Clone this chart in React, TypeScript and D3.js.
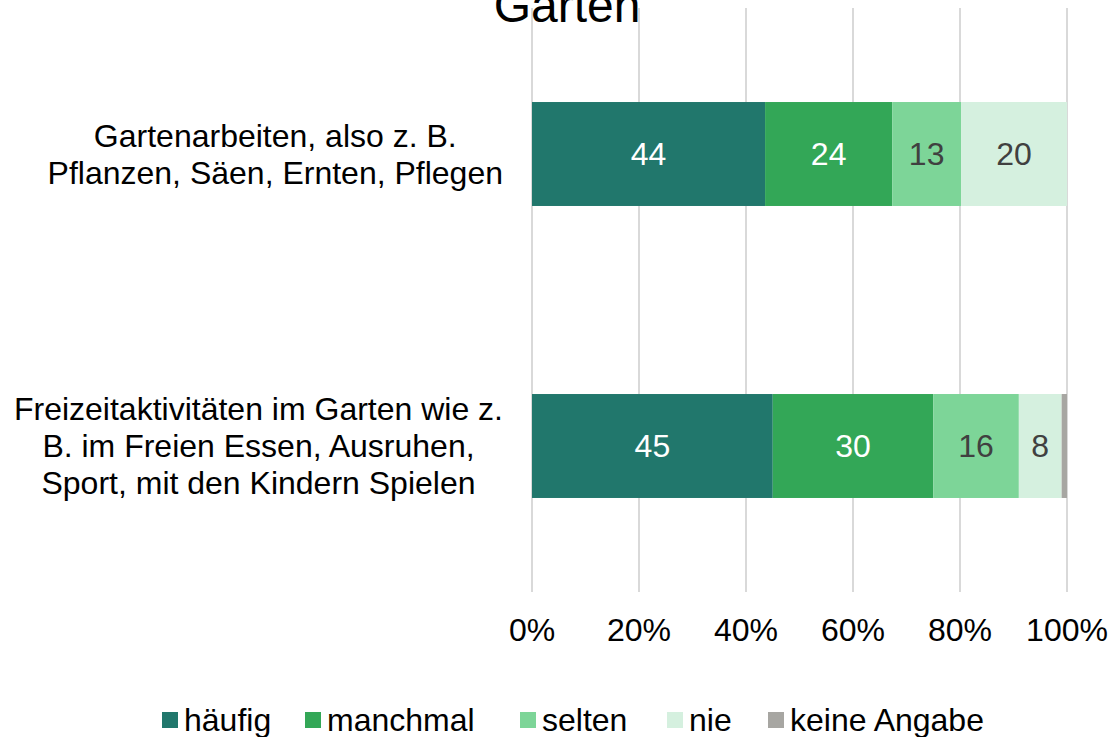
import React, { useEffect, useRef } from "react";
import * as d3 from "d3";

const categories = [
  "Gartenarbeiten, also z. B.\nPflanzen, Säen, Ernten, Pflegen",
  "Freizeitaktivitäten im Garten wie z.\nB. im Freien Essen, Ausruhen,\nSport, mit den Kindern Spielen",
];
const seriesNames = ["häufig", "manchmal", "selten", "nie", "keine Angabe"];
const seriesColors = ["#21776c", "#33a757", "#7dd598", "#d5f0df", "#a7a6a2"];
const labelColors = ["#ffffff", "#ffffff", "#404040", "#404040", "#404040"];
const haeufig = [44, 45];
const manchmal = [24, 30];
const selten = [13, 16];
const nie = [20, 8];
const keineAngabe = [0, 1];
const tickValues = [0, 0.2, 0.4, 0.6, 0.8, 1];
const title = "Garten";

const W = 1112;
const H = 737;
const FONT = "'Liberation Sans', Arial, sans-serif";
const FS = 32;

export default function App() {
  const ref = useRef<SVGSVGElement>(null);

  useEffect(() => {
    const svg = d3.select(ref.current);
    svg.selectAll("*").remove();

    const left = 532, right = 1067, top = 8, bottom = 592;
    const x = d3.scaleLinear().domain([0, 1]).range([left, right]);
    const y = d3.scaleBand<number>().domain(d3.range(categories.length)).range([top, bottom]).paddingInner(0.644).paddingOuter(0.322);

    const series = [haeufig, manchmal, selten, nie, keineAngabe];

    // gridlines
    svg.append("g").selectAll("line").data(tickValues).join("line")
      .attr("x1", d => x(d)).attr("x2", d => x(d))
      .attr("y1", top).attr("y2", bottom)
      .attr("stroke", "#d9d9d9").attr("stroke-width", 2);

    // bars
    const g = svg.append("g");
    categories.forEach((_, ci) => {
      const total = d3.sum(series, s => s[ci]);
      let cum = 0;
      series.forEach((s, si) => {
        const v = s[ci];
        if (v <= 0) return;
        const x0 = x(cum / total);
        const x1 = x((cum + v) / total);
        g.append("rect")
          .attr("x", x0).attr("y", y(ci)!)
          .attr("width", x1 - x0).attr("height", y.bandwidth())
          .attr("fill", seriesColors[si]);
        if (si < 4) {
          g.append("text")
            .attr("x", (x0 + x1) / 2)
            .attr("y", y(ci)! + y.bandwidth() / 2 + 11)
            .attr("text-anchor", "middle")
            .attr("font-family", FONT).attr("font-size", FS)
            .attr("fill", labelColors[si])
            .text(String(v));
        }
        cum += v;
      });
    });

    // category labels
    const canvas = document.createElement("canvas");
    const ctx = canvas.getContext("2d")!;
    ctx.font = `${FS}px 'Liberation Sans', Arial, sans-serif`;
    const labelRight = 503;
    categories.forEach((c, ci) => {
      const lines = c.split("\n");
      const maxW = d3.max(lines, l => ctx.measureText(l).width) || 0;
      const cx = labelRight - maxW / 2;
      const cy = y(ci)! + y.bandwidth() / 2;
      lines.forEach((l, li) => {
        svg.append("text")
          .attr("x", cx)
          .attr("y", cy + (li - (lines.length - 1) / 2) * 37 + 11)
          .attr("text-anchor", "middle")
          .attr("font-family", FONT).attr("font-size", FS)
          .attr("fill", "#000")
          .text(l);
      });
    });

    // x axis tick labels
    svg.append("g").selectAll("text").data(tickValues).join("text")
      .attr("x", d => x(d)).attr("y", 641)
      .attr("text-anchor", "middle")
      .attr("font-family", FONT).attr("font-size", FS)
      .attr("fill", "#000")
      .text(d => d3.format(".0%")(d));

    // title
    svg.append("text")
      .attr("x", 567).attr("y", 22)
      .attr("text-anchor", "middle")
      .attr("font-family", FONT).attr("font-size", 48)
      .attr("fill", "#000")
      .text(title);

    // legend
    const legendX = [162, 305, 520, 667, 768];
    const lg = svg.append("g");
    seriesNames.forEach((n, i) => {
      lg.append("rect")
        .attr("x", legendX[i]).attr("y", 712)
        .attr("width", 16).attr("height", 16)
        .attr("fill", seriesColors[i]);
      lg.append("text")
        .attr("x", legendX[i] + 22).attr("y", 731)
        .attr("font-family", FONT).attr("font-size", FS)
        .attr("fill", "#000")
        .text(n);
    });
  }, []);

  return (
    <svg
      ref={ref}
      width={W}
      height={H}
      style={{ position: "absolute", left: 0, top: 0, background: "#fff" }}
    />
  );
}
